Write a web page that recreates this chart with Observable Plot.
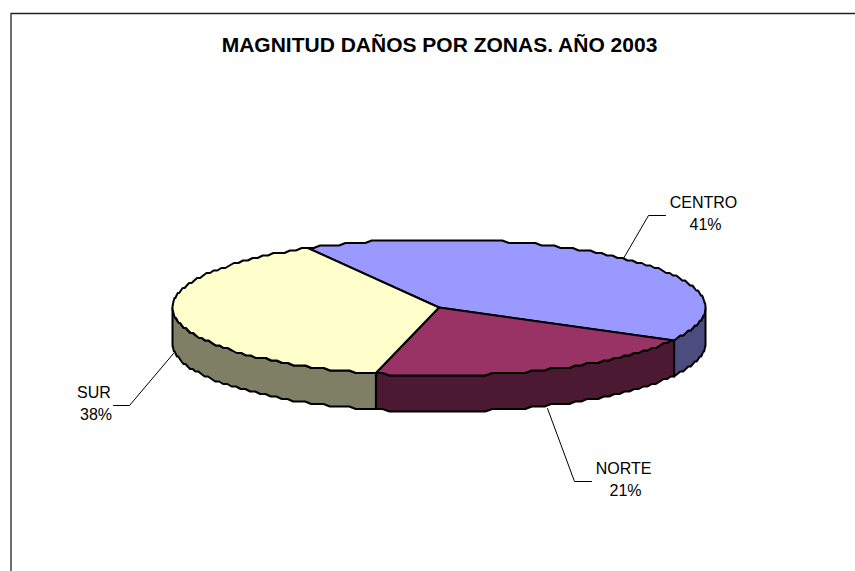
<!DOCTYPE html>
<html><head><meta charset="utf-8">
<script src="https://cdn.jsdelivr.net/npm/d3@7"></script>
<script src="https://cdn.jsdelivr.net/npm/@observablehq/plot@0.6"></script>
<style>html,body{margin:0;padding:0;background:#fff}svg{display:block}</style>
</head><body><div id="chart"></div>
<script>
const zones = ["CENTRO","NORTE","SUR"];
const shares = [41,21,38];
const topColors = ["#9999FF","#993366","#FFFFCC"];
const wallColors = ["#4C4C7F","#4C1933","#7F7F66"];
const title = "MAGNITUD DAÑOS POR ZONAS. AÑO 2003";

const cx=438.5, cy=307, rx=266.5, ry=68, depth=36, startDeg=-29.5;
const rad=d=>d*Math.PI/180;
// The outline of the original is a coarse, slightly stepped polygon: snap the rim to a small grid.
const snap=v=>Math.round(v/2.5)*2.5;
const pt=(deg,dy=0)=>({x:cx+rx*Math.sin(rad(deg)),y:snap(cy-ry*Math.cos(rad(deg)))+dy});
const arc=(a,b,dy=0)=>{const n=Math.max(2,Math.ceil(Math.abs(b-a)/1.5));return d3.range(n+1).map(i=>pt(a+(b-a)*i/n,dy));};

let acc=startDeg;
const slices=zones.map((z,i)=>{const a=acc;acc+=shares[i]*3.6;return {z,a,b:acc,i};});
const center={x:cx,y:cy};

const marks=[];
const frame=[{x:10.5,y:571},{x:10.5,y:13},{x:855,y:13}];
marks.push(Plot.line(frame,{x:"x",y:"y",stroke:"#222",strokeWidth:1.3}));
for(const s of slices){
  const a=Math.max(s.a,90), b=Math.min(s.b,270);
  if(b<=a) continue;
  const poly=[...arc(a,b),...arc(b,a,depth)];
  poly.push(poly[0]);
  marks.push(Plot.line(poly,{x:"x",y:"y",fill:wallColors[s.i],stroke:"#000",strokeWidth:2,strokeLinejoin:"round"}));
}
for(const s of slices){
  const poly=[center,...arc(s.a,s.b),center];
  marks.push(Plot.line(poly,{x:"x",y:"y",fill:topColors[s.i],stroke:"#000",strokeWidth:2,strokeLinejoin:"round"}));
}
const leaders=[
  [{x:623,y:258},{x:648,y:215},{x:665,y:215}],
  [{x:547,y:408},{x:574,y:481},{x:591,y:481}],
  [{x:173,y:353},{x:129,y:405},{x:113,y:405}]
];
leaders.forEach(l=>marks.push(Plot.line(l,{x:"x",y:"y",stroke:"#000",strokeWidth:1})));
const nameAt=[{x:703,y:202.5},{x:623,y:468.5},{x:93.5,y:392.5}];
const pctAt=[{x:705,y:224.5},{x:625,y:490.5},{x:95.5,y:414}];
const labels=zones.map((z,i)=>({...nameAt[i],t:z}));
const pcts=zones.map((z,i)=>({...pctAt[i],t:shares[i]+"%"}));
const font={fontFamily:"Liberation Sans, Arial, sans-serif",fontSize:16,fill:"#000"};
marks.push(Plot.text(labels,{x:"x",y:"y",text:"t",...font}));
marks.push(Plot.text(pcts,{x:"x",y:"y",text:"t",...font}));
marks.push(Plot.text([{x:439,y:45,t:title}],{x:"x",y:"y",text:"t",fontFamily:"Liberation Sans, Arial, sans-serif",fontSize:21,fontWeight:"bold",fill:"#000"}));

const chart=Plot.plot({width:855,height:571,margin:0,x:{domain:[0,855],axis:null},y:{domain:[571,0],axis:null},marks});
document.getElementById("chart").append(chart);
</script></body></html>
